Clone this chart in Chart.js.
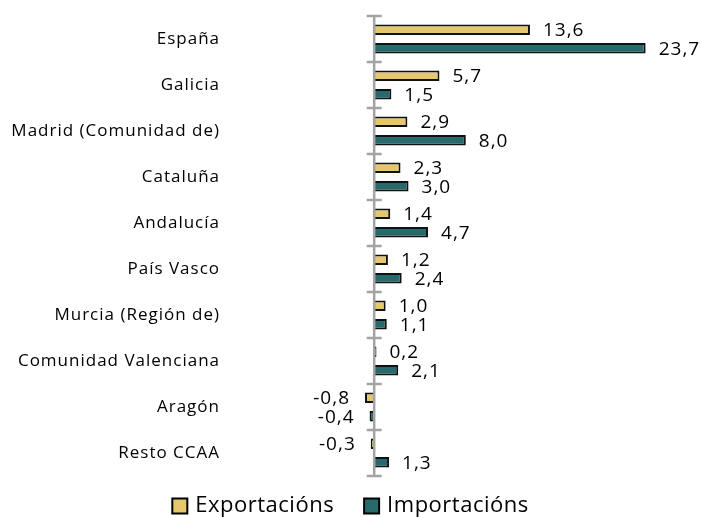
<!DOCTYPE html>
<html>
<head>
<meta charset="utf-8">
<script src="https://cdn.jsdelivr.net/npm/chart.js@4/dist/chart.umd.min.js"></script>
<style>
  html, body { margin: 0; padding: 0; background: #fff; }
</style>
</head>
<body>
<canvas id="grafico" width="701" height="517"></canvas>
<script>
// Datos
const comunidades = ['España', 'Galicia', 'Madrid (Comunidad de)', 'Cataluña', 'Andalucía',
    'País Vasco', 'Murcia (Región de)', 'Comunidad Valenciana', 'Aragón', 'Resto CCAA'];
const exportacions = [13.6, 5.7, 2.9, 2.3, 1.4, 1.2, 1.0, 0.2, -0.8, -0.3];
const importacions = [23.7, 1.5, 8.0, 3.0, 4.7, 2.4, 1.1, 2.1, -0.4, 1.3];
const series = ['Exportacións', 'Importacións'];

const fonte = "'Open Sans', 'Noto Sans', sans-serif";

// espaciado de letras parecido ao orixinal
const espaciado = {
    id: 'espaciado',
    beforeDraw(chart) { chart.ctx.letterSpacing = '1px'; }
};

// eixo do cero con marcas entre categorías
const eixoCero = {
    id: 'eixoCero',
    afterDatasetsDraw(chart) {
        const { ctx, chartArea, scales: { x } } = chart;
        const x0 = x.getPixelForValue(0);
        ctx.save();
        ctx.strokeStyle = '#a3a3a3';
        ctx.lineWidth = 2.5;
        ctx.beginPath();
        ctx.moveTo(x0, chartArea.top);
        ctx.lineTo(x0, chartArea.bottom);
        const paso = (chartArea.bottom - chartArea.top) / comunidades.length;
        for (let i = 0; i <= comunidades.length; i++) {
            const yy = chartArea.top + i * paso;
            ctx.moveTo(x0 - 7.5, yy);
            ctx.lineTo(x0 + 7.5, yy);
        }
        ctx.stroke();
        ctx.restore();
    }
};

// etiquetas de valor
const etiquetas = {
    id: 'etiquetas',
    afterDatasetsDraw(chart) {
        const { ctx } = chart;
        ctx.save();
        ctx.font = '19px ' + fonte;
        ctx.fillStyle = '#000';
        ctx.textBaseline = 'middle';
        chart.data.datasets.forEach((ds, i) => {
            chart.getDatasetMeta(i).data.forEach((bar, j) => {
                const v = ds.data[j];
                const txt = v.toFixed(1).replace('.', ',');
                if (v >= 0) {
                    ctx.textAlign = 'left';
                    ctx.fillText(txt, bar.x + 13, bar.y + 1);
                } else {
                    ctx.textAlign = 'right';
                    ctx.fillText(txt, bar.x - 15, bar.y + 1);
                }
            });
        });
        ctx.restore();
    }
};

// lenda inferior
const lenda = {
    id: 'lenda',
    afterDraw(chart) {
        const { ctx, width, height } = chart;
        const caixa = 15, sep = 8, entre = 30;
        ctx.save();
        ctx.font = '22px ' + fonte;
        ctx.letterSpacing = '0.5px';
        ctx.textBaseline = 'middle';
        ctx.textAlign = 'left';
        const items = chart.data.datasets.map(ds => ({
            txt: ds.label, cor: ds.backgroundColor, w: ctx.measureText(ds.label).width
        }));
        const total = items.reduce((s, it) => s + caixa + sep + it.w, 0) + entre * (items.length - 1);
        let xx = (width - total) / 2;
        const yc = height - 11;
        items.forEach(it => {
            ctx.fillStyle = it.cor;
            ctx.fillRect(xx, yc - caixa / 2, caixa, caixa);
            ctx.strokeStyle = '#000';
            ctx.lineWidth = 2;
            ctx.strokeRect(xx, yc - caixa / 2, caixa, caixa);
            ctx.fillStyle = '#000';
            ctx.fillText(it.txt, xx + caixa + sep, yc);
            xx += caixa + sep + it.w + entre;
        });
        ctx.restore();
    }
};

new Chart(document.getElementById('grafico'), {
    type: 'bar',
    data: {
        labels: comunidades,
        datasets: [
            { label: series[0], data: exportacions, backgroundColor: '#E4C76F', borderColor: '#111', borderWidth: 2 },
            { label: series[1], data: importacions, backgroundColor: '#286A6C', borderColor: '#111', borderWidth: 2 }
        ]
    },
    options: {
        indexAxis: 'y',
        responsive: false,
        animation: false,
        categoryPercentage: 0.81,
        barPercentage: 0.56,
        layout: { padding: { top: 16, right: 29, bottom: 41, left: 0 } },
        scales: {
            x: { display: false, min: -1.5, max: 26 },
            y: {
                grid: { display: false, drawTicks: false },
                border: { display: false },
                ticks: { padding: 137, color: '#000', font: { family: fonte, size: 17 } },
                afterFit(scale) {
                    scale.width = 357;
                    scale.paddingTop = 0;
                    scale.paddingBottom = 0;
                }
            }
        },
        plugins: {
            legend: { display: false },
            tooltip: { enabled: false }
        }
    },
    plugins: [espaciado, eixoCero, etiquetas, lenda]
});
</script>
</body>
</html>
